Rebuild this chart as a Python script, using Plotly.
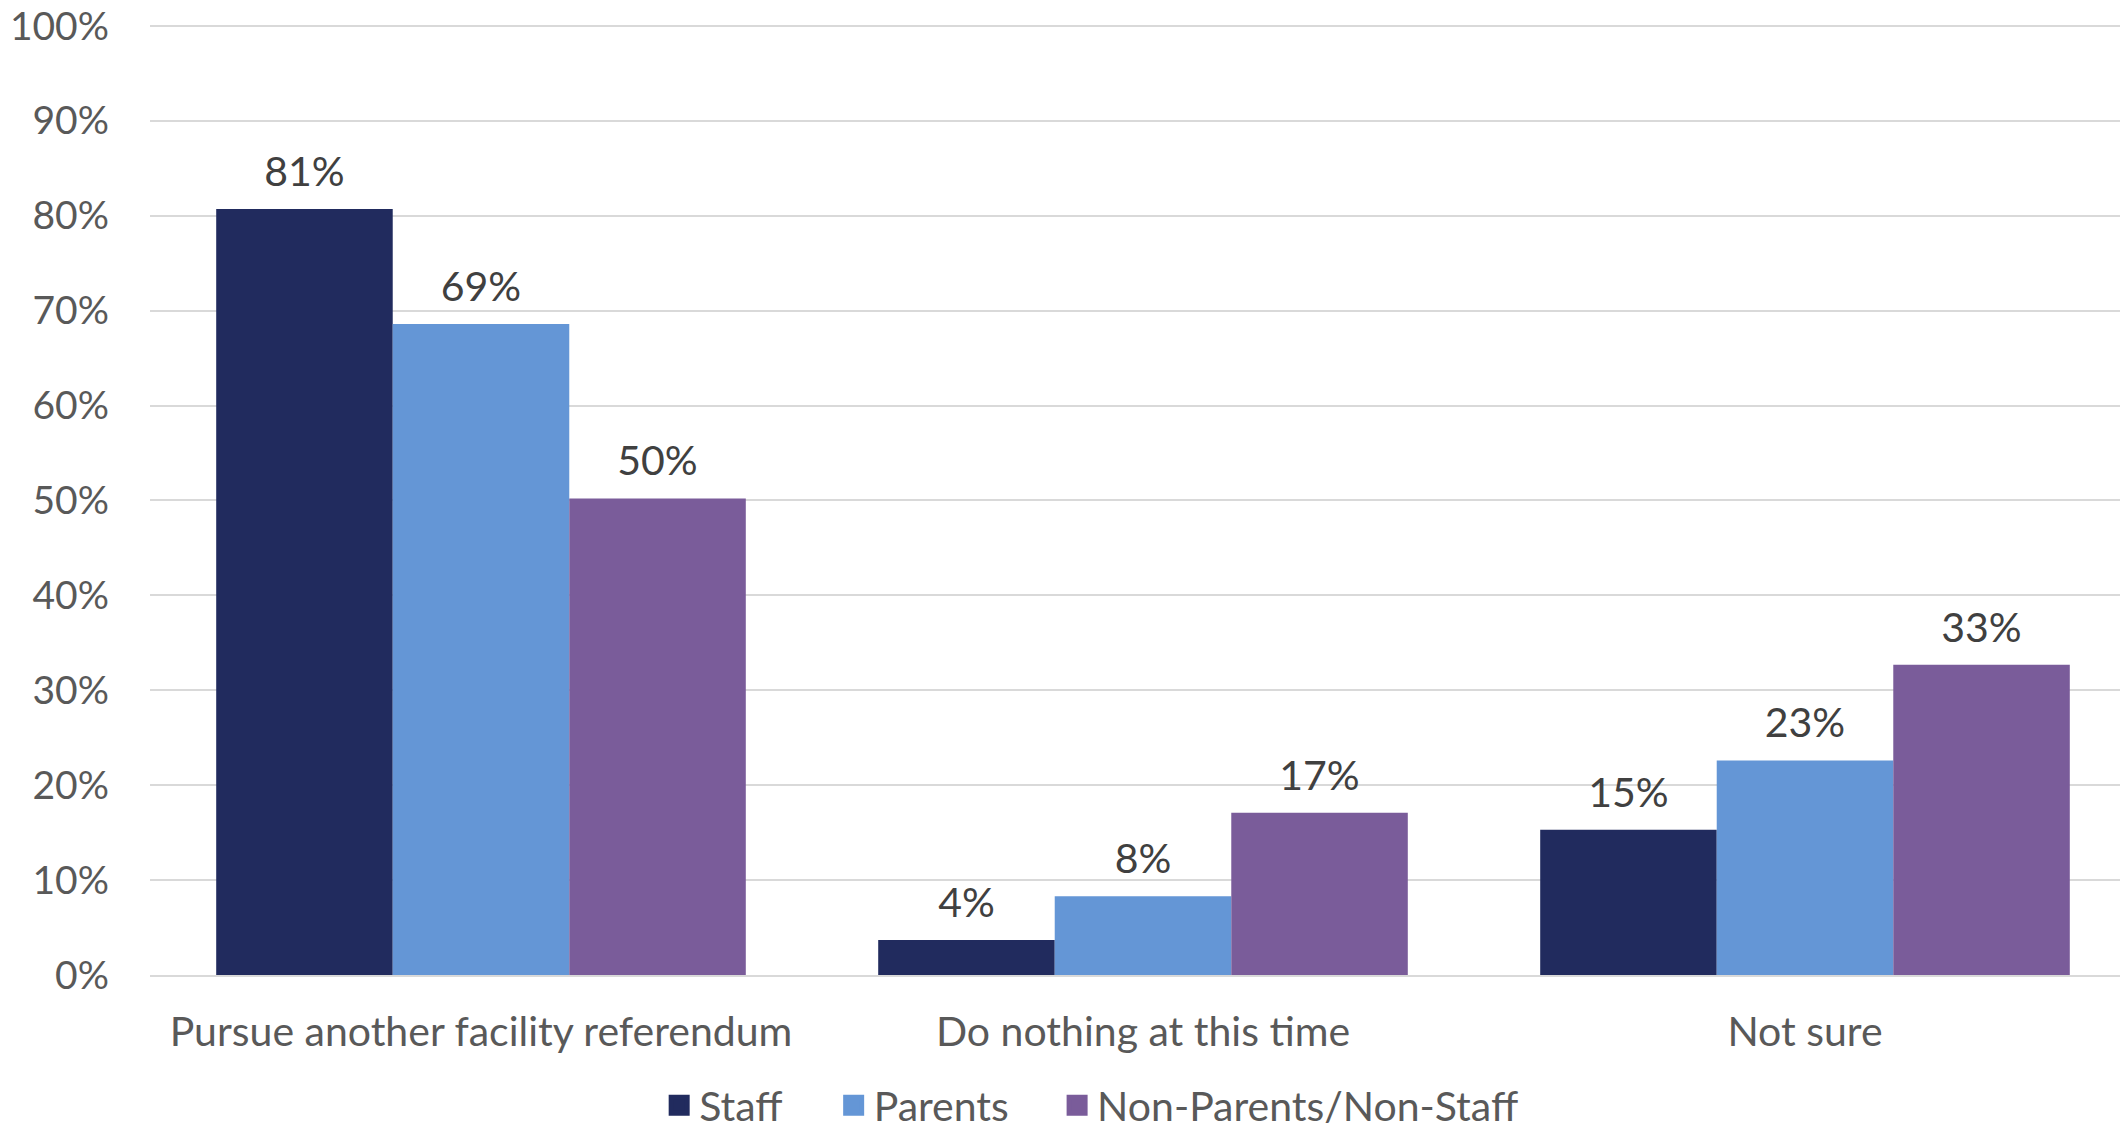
import plotly.graph_objects as go

categories = ["Pursue another facility referendum", "Do nothing at this time", "Not sure"]
series_names = ["Staff", "Parents", "Non-Parents/Non-Staff"]
staff = [0.807, 0.037, 0.153]
parents = [0.686, 0.083, 0.226]
non_parents = [0.502, 0.171, 0.327]
colors = ["#212B5E", "#6496D6", "#7A5C9A"]
y_ticks = [i / 10 for i in range(11)]

FONT = "Lato"
FS = 41
fig = go.Figure()
for i, (name, vals, col) in enumerate(zip(series_names, [staff, parents, non_parents], colors)):
    fig.add_trace(go.Bar(
        x=categories, y=vals, name=name, offsetgroup=str(i),
        marker=dict(color=col, line=dict(width=0)),
        showlegend=False,
    ))
for i, (name, vals, col) in enumerate(zip(series_names, [staff, parents, non_parents], colors)):
    fig.add_trace(go.Scatter(
        x=categories, y=vals, name=name, offsetgroup=str(i),
        mode="markers+text", marker=dict(size=19, opacity=0, color=col),
        texttemplate="%{y:.0%}", textposition="top center",
        textfont=dict(family=FONT, size=FS, color="#404040"),
        cliponaxis=False, showlegend=False, hoverinfo="skip",
    ))
# legend entries, one legend each so they can be spaced like the reference
legend_ids = ["legend", "legend2", "legend3"]
legend_x = [0.306, 0.388, 0.493]
for name, col, lid in zip(series_names, colors, legend_ids):
    fig.add_trace(go.Scatter(
        x=[None], y=[None], name=name, mode="markers",
        marker=dict(symbol="square", size=16, color=col, line=dict(color=col, width=10)),
        xaxis="x2", yaxis="y2", showlegend=True, legend=lid,
    ))

leg_common = dict(orientation="h", xref="container", yref="container",
                  xanchor="left", y=0.027, yanchor="middle",
                  itemsizing="trace", itemwidth=30, bgcolor="rgba(0,0,0,0)",
                  font=dict(family=FONT, size=FS, color="#595959"))

fig.update_layout(
    width=2128, height=1128,
    paper_bgcolor="white", plot_bgcolor="white",
    margin=dict(l=142, r=0, t=16, b=161),
    barmode="group", bargap=0.2, bargroupgap=0,
    scattermode="group", scattergap=0.2,
    font=dict(family=FONT, size=FS, color="#595959"),
    legend=dict(x=legend_x[0], **leg_common),
    legend2=dict(x=legend_x[1], **leg_common),
    legend3=dict(x=legend_x[2], **leg_common),
    xaxis=dict(showline=True, linecolor="#D9D9D9", linewidth=2,
               ticks="", ticklabelstandoff=20, automargin=False,
               tickfont=dict(family=FONT, size=FS, color="#595959")),
    yaxis=dict(range=[0, 1.002], tickvals=y_ticks, tickformat=".0%",
               showgrid=True, gridcolor="#D9D9D9", gridwidth=2,
               zeroline=False, showline=False, ticks="",
               ticklabelstandoff=40, automargin=False,
               ticklabeloverflow="allow",
               tickfont=dict(family=FONT, size=39, color="#595959")),
    xaxis2=dict(overlaying="x", visible=False),
    yaxis2=dict(overlaying="y", visible=False),
)
fig.write_html("out.html")
